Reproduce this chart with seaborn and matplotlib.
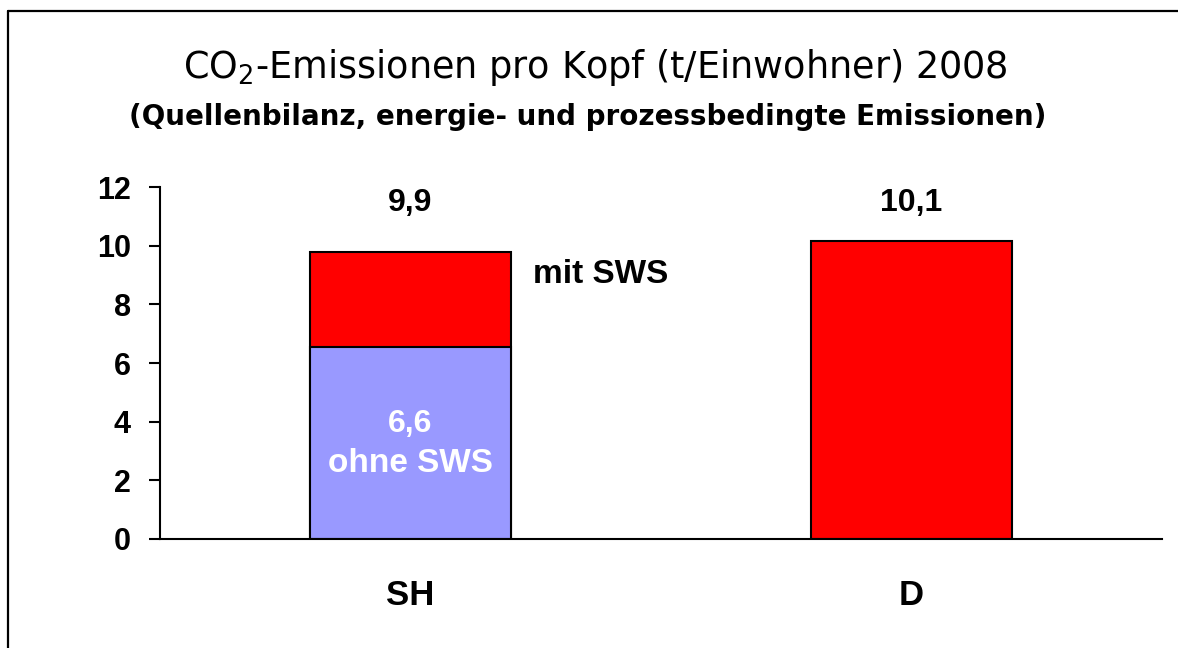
import matplotlib
matplotlib.use("Agg")
import matplotlib.pyplot as plt
import seaborn as sns
import pandas as pd
from matplotlib.lines import Line2D

# ---- data ----
categories = ["SH", "D"]
total_values = [9.8, 10.15]          # bar tops
ohne_sws_values = [6.55, None]       # lower (blue) segment, SH only
total_labels = ["9,9", "10,1"]
ohne_label = "6,6"
y_ticks = [0, 2, 4, 6, 8, 10, 12]

sns.set_theme(style="white")
plt.rcParams["font.family"] = ["Liberation Sans", "DejaVu Sans"]
plt.rcParams["text.color"] = "black"

W, H = 1178, 648
fig = plt.figure(figsize=(W / 100, H / 100), dpi=100)
ax = fig.add_axes([160 / W, 1 - 539 / H, (1162 - 160) / W, (539 - 187) / H])

df_tot = pd.DataFrame({"cat": categories, "val": total_values})
df_ohne = pd.DataFrame({"cat": categories, "val": ohne_sws_values}).dropna()

sns.barplot(data=df_tot, x="cat", y="val", order=categories, color="#FF0000",
            saturation=1, edgecolor="black", linewidth=1.5, width=0.4, ax=ax)
sns.barplot(data=df_ohne, x="cat", y="val", order=categories, color="#9999FF",
            saturation=1, edgecolor="black", linewidth=1.5, width=0.4, ax=ax)

ax.set_xlim(-0.5, 1.5)
ax.set_ylim(0, 12)
ax.set_yticks(y_ticks)
ax.set_yticklabels([str(t) for t in y_ticks], fontsize=22, fontweight="bold")
ax.set_xticks(range(len(categories)))
ax.set_xticklabels(categories, fontsize=25, fontweight="bold")
ax.set_xticks([-0.5, 0.5, 1.5], minor=True)
ax.tick_params(axis="x", which="major", length=0, pad=29, labelcolor="black")
ax.tick_params(axis="x", which="minor", length=10, width=1.5, direction="out", color="black")
ax.tick_params(axis="y", which="major", length=8, width=1.5, direction="out", color="black",
               pad=13, left=True, labelcolor="black")
ax.set_xlabel("")
ax.set_ylabel("")
for s in ["top", "right"]:
    ax.spines[s].set_visible(False)
for s in ["left", "bottom"]:
    ax.spines[s].set_color("black")
    ax.spines[s].set_linewidth(1.5)
ax.grid(False)

# value labels
for i, lab in enumerate(total_labels):
    ax.text(i, 11.18, lab, ha="center", va="baseline", fontsize=23, fontweight="bold", color="black")
ax.text(0.38, 8.73, "mit SWS", ha="center", va="baseline", fontsize=24, fontweight="bold", color="black")
ax.text(0, 3.65, ohne_label, ha="center", va="baseline", fontsize=23, fontweight="bold", color="white")
ax.text(0, 2.28, "ohne SWS", ha="center", va="baseline", fontsize=24, fontweight="bold", color="white")

# titles
fig.text(595 / W, 1 - 68 / H, "CO$_2$-Emissionen pro Kopf (t/Einwohner) 2008",
         ha="center", va="center", fontsize=26.4, color="black", family="DejaVu Sans")
fig.text(588 / W, 1 - 117 / H, "(Quellenbilanz, energie- und prozessbedingte Emissionen)",
         ha="center", va="center", fontsize=20, fontweight="bold", color="black", family="DejaVu Sans")

# outer frame (cropped rectangle)
fig.add_artist(Line2D([8 / W, 8 / W], [0, 1 - 11 / H], transform=fig.transFigure, color="black", linewidth=1.6))
fig.add_artist(Line2D([8 / W, 1], [1 - 11 / H, 1 - 11 / H], transform=fig.transFigure, color="black", linewidth=1.6))

fig.savefig("out.png", dpi=100, facecolor="white")
